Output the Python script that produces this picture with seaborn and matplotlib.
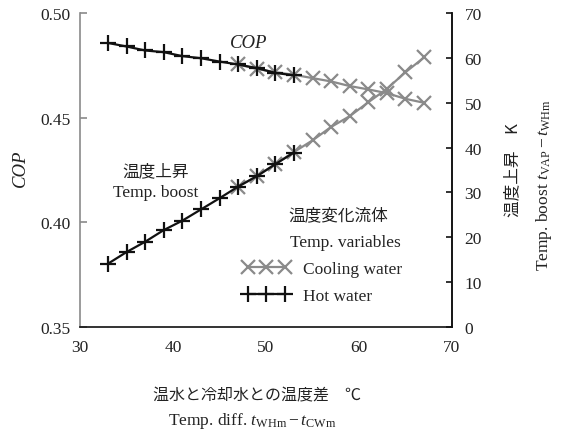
import matplotlib
matplotlib.use("Agg")
import matplotlib.pyplot as plt
import seaborn as sns
import pandas as pd

# Temperature difference between hot water and cooling water (degC)
hot_diff = [33, 35, 37, 39, 41, 43, 45, 47, 49, 51, 53]
cool_diff = [47, 49, 51, 53, 55, 57, 59, 61, 63, 65, 67]

# COP when the hot-water temperature is varied / cooling-water temperature is varied
hot_cop = [0.4857, 0.4840, 0.4821, 0.4813, 0.4794, 0.4784, 0.4768, 0.4754, 0.4737, 0.4714, 0.4702]
cool_cop = [0.4754, 0.4733, 0.4717, 0.4705, 0.4689, 0.4673, 0.4651, 0.4635, 0.4617, 0.4590, 0.4571]

# Temperature boost t_VAP - t_WHm (K)
hot_boost = [14.1, 16.7, 19.0, 21.6, 23.7, 26.2, 28.7, 31.3, 33.6, 36.3, 38.9]
cool_boost = [31.3, 33.6, 36.3, 39.0, 41.6, 44.6, 47.0, 50.1, 53.1, 56.8, 60.1]

x_ticks = [30, 40, 50, 60, 70]
cop_ticks = [0.35, 0.40, 0.45, 0.50]
boost_ticks = [0, 10, 20, 30, 40, 50, 60, 70]

series_labels = ["Cooling water", "Hot water"]

sns.set_theme(style="white")
plt.rcParams["font.family"] = ["Liberation Serif", "Noto Sans CJK JP"]
plt.rcParams["mathtext.fontset"] = "custom"
plt.rcParams["mathtext.rm"] = "Liberation Serif"
plt.rcParams["mathtext.it"] = "Liberation Serif:italic"

W, H = 563, 435
fig = plt.figure(figsize=(W / 100, H / 100), dpi=100)
ax = fig.add_axes([80 / W, 1 - 328 / H, (452 - 80) / W, (328 - 14) / H])
ax2 = ax.twinx()

GRAY = "#8a8a8a"
BLACK = "#111111"

cool = pd.DataFrame({"diff": cool_diff, "cop": cool_cop, "boost": cool_boost})
hot = pd.DataFrame({"diff": hot_diff, "cop": hot_cop, "boost": hot_boost})

cool_kw = dict(color=GRAY, marker="x", markersize=10, mec=GRAY, mew=1.6, linewidth=1.6)
hot_kw = dict(color=BLACK, marker="+", markersize=12, mec=BLACK, mew=1.6, linewidth=1.6)

sns.lineplot(data=cool, x="diff", y="cop", ax=ax, label=series_labels[0], **cool_kw)
sns.lineplot(data=hot, x="diff", y="cop", ax=ax, label=series_labels[1], **hot_kw)
sns.lineplot(data=cool, x="diff", y="boost", ax=ax2, **cool_kw)
sns.lineplot(data=hot, x="diff", y="boost", ax=ax2, **hot_kw)

LABEL_FS = 12.5
CJK_FS = 12

handles, labels = ax.get_legend_handles_labels()
ax.get_legend().remove()
leg = ax2.legend(handles, labels, loc="upper left",
                 bbox_to_anchor=(243 / W, 1 - 262 / H), bbox_transform=fig.transFigure,
                 frameon=False, numpoints=3, handlelength=2.7, handletextpad=0.75,
                 labelspacing=0.6, borderpad=0, borderaxespad=0, fontsize=LABEL_FS)

ax.set_xlim(30, 70)
ax.set_ylim(0.35, 0.50)
ax2.set_ylim(0, 70)
ax.set_xticks(x_ticks)
ax.set_yticks(cop_ticks)
ax2.set_yticks(boost_ticks)
ax.set_yticklabels([f"{v:.2f}" for v in cop_ticks])
ax.set_xlabel("")
ax.set_ylabel("")
ax2.set_ylabel("")

for a in (ax, ax2):
    for s in a.spines.values():
        s.set_linewidth(1.2)
ax.spines["top"].set_visible(False)
ax2.spines["top"].set_visible(False)
ax.spines["left"].set_color(GRAY)
ax.spines["bottom"].set_color(BLACK)
ax2.spines["right"].set_color(BLACK)
ax2.spines["left"].set_visible(False)
ax2.spines["bottom"].set_visible(False)

TXT = "#222222"
ax.tick_params(axis="x", direction="in", length=5, width=1.2, color=GRAY,
               labelsize=12.5, pad=9, labelcolor=TXT)
ax.tick_params(axis="y", direction="in", length=5, width=1.2, color=GRAY,
               labelsize=12.5, pad=7, labelcolor=TXT)
ax2.tick_params(axis="y", direction="in", length=4, width=1.2, color=BLACK,
                labelsize=12.5, pad=9, labelcolor=TXT)

cjk = ["Noto Sans CJK JP", "Liberation Serif"]
serif = ["Liberation Serif", "Noto Sans CJK JP"]

def fx(px):
    return px / W

def fy(py):
    return 1 - py / H

fig.text(fx(249), fy(43), "COP", fontsize=13.5, style="italic", family=serif,
         ha="center", va="center", color=TXT)
fig.text(fx(156), fy(172), "温度上昇", fontsize=CJK_FS, family=cjk,
         ha="center", va="center", color=TXT)
fig.text(fx(156), fy(193), "Temp. boost", fontsize=LABEL_FS, family=serif,
         ha="center", va="center", color=TXT)
fig.text(fx(288), fy(216), "温度変化流体", fontsize=CJK_FS, family=cjk,
         ha="left", va="center", color=TXT)
fig.text(fx(290), fy(243), "Temp. variables", fontsize=LABEL_FS, family=serif,
         ha="left", va="center", color=TXT)

fig.text(fx(20), fy(168), "COP", fontsize=13.5, style="italic", family=serif,
         rotation=90, ha="center", va="center", color=TXT)
fig.text(fx(513), fy(170), "温度上昇　K", fontsize=CJK_FS, family=cjk,
         rotation=90, ha="center", va="center", color=TXT)
fig.text(fx(544), fy(185), r"Temp. boost $t_{\rm VAP}-t_{\rm WHm}$", fontsize=LABEL_FS,
         family=serif, rotation=90, ha="center", va="center", color=TXT)

fig.text(fx(257), fy(396), "温水と冷却水との温度差　℃", fontsize=11.5, family=cjk,
         ha="center", va="center", color=TXT)
fig.text(fx(252), fy(421), r"Temp. diff. $t_{\rm WHm}-t_{\rm CWm}$", fontsize=LABEL_FS,
         family=serif, ha="center", va="center", color=TXT)

fig.savefig("out.png", dpi=100)
